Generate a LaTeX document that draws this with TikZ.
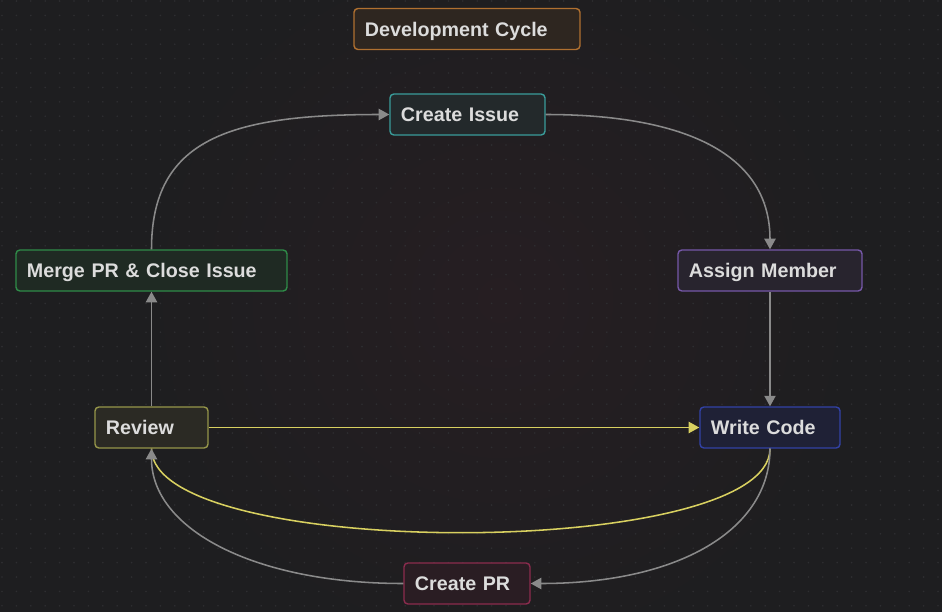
\documentclass[tikz,border=0pt]{standalone}
\usepackage{fontspec}
\setmainfont{Liberation Sans}
\usetikzlibrary{arrows.meta}
\definecolor{bg}{HTML}{1E1E20}
\definecolor{glow}{HTML}{261E22}
\definecolor{griddot}{HTML}{2E2E31}
\definecolor{txt}{HTML}{DCDCDC}
\definecolor{edgegray}{HTML}{8A8A8A}
\definecolor{edgeyellow}{HTML}{D8D060}
\definecolor{devline}{HTML}{B07030}\definecolor{devfill}{HTML}{2E2620}
\definecolor{issueline}{HTML}{3A9C9A}\definecolor{issuefill}{HTML}{23292B}
\definecolor{assignline}{HTML}{7658A8}\definecolor{assignfill}{HTML}{28242E}
\definecolor{mergeline}{HTML}{2F8C48}\definecolor{mergefill}{HTML}{1F2A23}
\definecolor{reviewline}{HTML}{96964A}\definecolor{reviewfill}{HTML}{2B2A24}
\definecolor{writeline}{HTML}{3242A6}\definecolor{writefill}{HTML}{1F2136}
\definecolor{prline}{HTML}{8C2C4E}\definecolor{prfill}{HTML}{2A1D23}
\tikzset{
    stepnode/.style 2 args={
        draw=#1, fill=#2, line width=1pt, rounded corners=2.8pt,
        minimum height=1.025cm, inner xsep=0.275cm, inner ysep=0pt,
        text height=11pt, text depth=1pt,
        align=left, text=txt, font=\fontsize{14}{16}\selectfont\bfseries
    },
    flow/.style={draw=edgegray, line width=1.1pt, -{Triangle[width=8pt,length=7.5pt]}},
    rework/.style={draw=edgeyellow, line width=1.1pt},
}

\begin{document}
\begin{tikzpicture}[x=0.025cm, y=-0.025cm]
\useasboundingbox (0,0) rectangle (942,612);
\fill[bg] (0,0) rectangle (942,612);
\shade[inner color=glow, outer color=bg] (500,300) circle (360);
\foreach \i in {0,...,65}
    \foreach \j in {0,...,42}
        \fill[griddot] (2+14.4*\i,1+14.4*\j) circle (0.9);

\node[stepnode={devline}{devfill}, text width=5.1cm] (cycle) at (467,29) {Development Cycle};
\node[stepnode={issueline}{issuefill}, text width=3.325cm] (issue) at (467.5,114.5) {Create Issue};
\node[stepnode={assignline}{assignfill}, text width=4.05cm] (assign) at (770,270.5) {Assign Member};
\node[stepnode={mergeline}{mergefill}, text width=6.225cm] (merge) at (151.5,270.5) {Merge PR \& Close Issue};
\node[stepnode={reviewline}{reviewfill}, text width=2.275cm] (review) at (151.5,427.5) {Review};
\node[stepnode={writeline}{writefill}, text width=2.95cm] (write) at (770,427.5) {Write Code};
\node[stepnode={prline}{prfill}, text width=2.6cm] (pr) at (467,583.5) {Create PR};

\draw[flow] (merge.north) .. controls +(0,-110) and +(-160,0) .. (issue.west);
\draw[flow] (issue.east) .. controls +(130,0) and +(0,-100) .. (assign.north);
\draw[flow] (assign) -- (write);
\draw[flow] (review) -- (merge);
\draw[rework, -{Triangle[width=8pt,length=7.5pt]}] (review) -- (write);
\draw[rework] (write.south) .. controls +(0,112) and +(0,112) .. (review.south);
\draw[flow] (write.south) .. controls +(0,80) and +(150,0) .. (pr.east);
\draw[flow] (pr.west) .. controls +(-150,0) and +(0,80) .. (review.south);
\end{tikzpicture}
\end{document}
